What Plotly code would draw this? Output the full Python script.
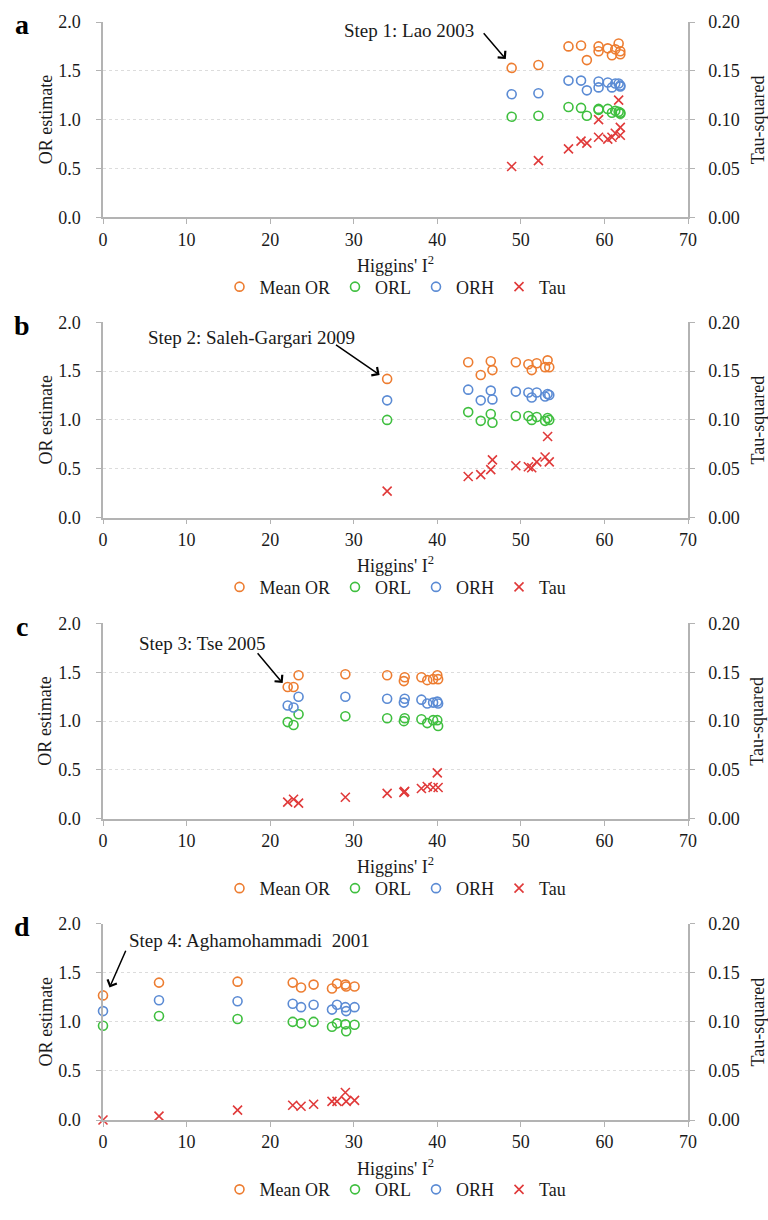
import plotly.graph_objects as go
from plotly.subplots import make_subplots

# ---------------- data ----------------
panel_letters = ["a", "b", "c", "d"]
series_names = ["Mean OR", "ORL", "ORH", "Tau"]
step_labels = ["Step 1: Lao 2003", "Step 2: Saleh-Gargari 2009",
               "Step 3: Tse 2005", "Step 4: Aghamohammadi  2001"]

a_i2 = [48.9, 52.1, 55.7, 57.2, 57.9, 59.3, 59.3, 60.4, 60.9, 61.3, 61.7, 61.9, 61.9]
a_mean = [1.53, 1.56, 1.75, 1.76, 1.61, 1.75, 1.70, 1.73, 1.66, 1.72, 1.78, 1.70, 1.67]
a_orl = [1.03, 1.04, 1.13, 1.12, 1.04, 1.11, 1.10, 1.11, 1.07, 1.09, 1.08, 1.07, 1.06]
a_orh = [1.26, 1.27, 1.40, 1.40, 1.30, 1.39, 1.33, 1.38, 1.33, 1.37, 1.37, 1.35, 1.34]
a_tau = [0.052, 0.058, 0.070, 0.078, 0.076, 0.100, 0.082, 0.080, 0.082, 0.086, 0.120, 0.092, 0.084]

b_i2 = [34.0, 43.7, 45.2, 46.4, 46.6, 49.4, 50.9, 51.3, 51.9, 52.9, 53.2, 53.4]
b_mean = [1.42, 1.59, 1.46, 1.60, 1.51, 1.59, 1.57, 1.51, 1.58, 1.54, 1.61, 1.54]
b_orl = [1.00, 1.08, 0.99, 1.06, 0.97, 1.04, 1.04, 1.00, 1.03, 0.99, 1.02, 1.00]
b_orh = [1.20, 1.31, 1.20, 1.30, 1.21, 1.29, 1.28, 1.23, 1.28, 1.24, 1.265, 1.255]
b_tau = [0.027, 0.042, 0.044, 0.049, 0.059, 0.053, 0.052, 0.051, 0.057, 0.062, 0.083, 0.057]

c_i2 = [22.1, 22.8, 23.4, 29.0, 34.0, 36.1, 36.0, 38.1, 38.8, 39.5, 40.0, 40.1]
c_mean = [1.35, 1.35, 1.47, 1.48, 1.47, 1.45, 1.41, 1.45, 1.42, 1.43, 1.47, 1.43]
c_orl = [0.99, 0.96, 1.07, 1.05, 1.03, 1.03, 1.00, 1.02, 0.98, 1.01, 1.01, 0.95]
c_orh = [1.16, 1.14, 1.25, 1.25, 1.23, 1.23, 1.19, 1.22, 1.18, 1.19, 1.20, 1.18]
c_tau = [0.017, 0.020, 0.016, 0.022, 0.026, 0.028, 0.027, 0.031, 0.033, 0.032, 0.047, 0.032]

d_i2 = [0.0, 6.7, 16.1, 22.7, 23.7, 25.2, 27.4, 28.0, 29.0, 29.1, 30.1]
d_mean = [1.27, 1.40, 1.41, 1.40, 1.35, 1.38, 1.34, 1.39, 1.38, 1.36, 1.36]
d_orl = [0.96, 1.06, 1.03, 1.00, 0.985, 1.00, 0.95, 0.985, 0.975, 0.905, 0.97]
d_orh = [1.11, 1.22, 1.21, 1.185, 1.15, 1.175, 1.125, 1.175, 1.15, 1.11, 1.15]
d_tau = [0.000, 0.004, 0.010, 0.015, 0.014, 0.016, 0.019, 0.019, 0.028, 0.019, 0.020]

panels = [
    (a_i2, a_mean, a_orl, a_orh, a_tau),
    (b_i2, b_mean, b_orl, b_orh, b_tau),
    (c_i2, c_mean, c_orl, c_orh, c_tau),
    (d_i2, d_mean, d_orl, d_orh, d_tau),
]

# ---------------- styling ----------------
W, H = 768, 1220
ML, MR, MT, MB = 103, 80, 20, 81
PW, PH = W - ML - MR, H - MT - MB
FONT = "Liberation Serif"
TXT = "#1a1a1a"
AXIS_COL = "#b3b3b3"
GRID_COL = "#dcdcdc"
colors = ["#ED7D31", "#3FBF3F", "#5B8BD4", "#E03A3A"]

# pixel tops/bottoms of each plot area
tops = [20, 326, 633, 939]
bots = [219, 525, 832, 1139]

def py2paper(py):
    return min(1.0, max(0.0, (MT + PH - py) / PH))

def py2paper_free(py):
    return (MT + PH - py) / PH

def px2paper(px):
    return (px - ML) / PW

fig = make_subplots(rows=4, cols=1, specs=[[{"secondary_y": True}]] * 4)

for r, (xi, mean, orl, orh, tau) in enumerate(panels, start=1):
    leg = "legend" if r == 1 else f"legend{r}"
    for k, (vals, name) in enumerate(zip([mean, orl, orh], series_names[:3])):
        fig.add_trace(go.Scatter(
            x=xi, y=vals, mode="markers", name=name, legend=leg,
            cliponaxis=False,
            marker=dict(symbol="circle-open", size=9, color=colors[k],
                        line=dict(width=1.6, color=colors[k]))),
            row=r, col=1, secondary_y=False)
    fig.add_trace(go.Scatter(
        x=xi, y=tau, mode="markers", name=series_names[3], legend=leg,
        cliponaxis=False,
        marker=dict(symbol="x-thin-open", size=9, color=colors[3],
                    line=dict(width=1.6, color=colors[3]))),
        row=r, col=1, secondary_y=True)

    dom = [py2paper(bots[r - 1]), py2paper(tops[r - 1])]
    fig.update_xaxes(row=r, col=1, domain=[0, 1], range=[0, 70], dtick=10,
                     showline=True, linecolor=AXIS_COL, linewidth=1.5,
                     ticks="outside", ticklen=5, tickcolor=AXIS_COL,
                     showgrid=False, zeroline=False,
                     tickfont=dict(family=FONT, size=18, color=TXT))
    fig.update_yaxes(row=r, col=1, secondary_y=False, domain=dom,
                     range=[0, 2], dtick=0.5, tickformat=".1f",
                     showline=True, linecolor=AXIS_COL, linewidth=1.5,
                     ticks="outside", ticklen=5, tickcolor=AXIS_COL,
                     ticklabelstandoff=12,
                     showgrid=True, gridcolor=GRID_COL, griddash="dot", gridwidth=1,
                     zeroline=False,
                     tickfont=dict(family=FONT, size=18, color=TXT))
    fig.update_yaxes(row=r, col=1, secondary_y=True, domain=dom,
                     range=[0, 0.2], dtick=0.05, tickformat=".2f",
                     showline=True, linecolor=AXIS_COL, linewidth=1.5,
                     ticks="outside", ticklen=5, tickcolor=AXIS_COL,
                     ticklabelstandoff=10,
                     showgrid=False, zeroline=False,
                     tickfont=dict(family=FONT, size=18, color=TXT))

    top, bot = tops[r - 1], bots[r - 1]
    mid = (top + bot) / 2
    # panel letter
    fig.add_annotation(xref="paper", yref="paper", x=px2paper(22), y=py2paper_free(top + 3),
                       text=f"<b>{panel_letters[r-1]}</b>", showarrow=False,
                       font=dict(family=FONT, size=28, color="#000"),
                       xanchor="center", yanchor="middle")
    # axis titles
    fig.add_annotation(xref="paper", yref="paper", x=px2paper(45.5), y=py2paper_free(mid),
                       text="OR estimate", textangle=-90, showarrow=False,
                       font=dict(family=FONT, size=18, color=TXT),
                       xanchor="center", yanchor="middle")
    fig.add_annotation(xref="paper", yref="paper", x=px2paper(757.5), y=py2paper_free(mid),
                       text="Tau-squared", textangle=-90, showarrow=False,
                       font=dict(family=FONT, size=18, color=TXT),
                       xanchor="center", yanchor="middle")
    fig.add_annotation(xref="paper", yref="paper", x=0.5, y=py2paper_free(bot + 48),
                       text="Higgins' I<sup>2</sup>", showarrow=False,
                       font=dict(family=FONT, size=18, color=TXT),
                       xanchor="center", yanchor="middle")

# step annotations (text + arrow), positions in data coords of each panel
step_text_pos = [(44.6, 1.91, "right"), (30.4, 1.84, "right"),
                 (19.8, 1.80, "right"), (2.9, 1.83, "left")]
arrow_tail = [(45.4, 1.90), (27.7, 1.78), (18.35, 1.71), (2.8, 1.74)]
arrow_tip = [(48.2, 1.62), (33.1, 1.46), (21.5, 1.39), (0.78, 1.35)]
xrefs = ["x", "x2", "x3", "x4"]
yrefs = ["y", "y3", "y5", "y7"]
for i in range(4):
    tx, ty, anc = step_text_pos[i]
    fig.add_annotation(xref=xrefs[i], yref=yrefs[i], x=tx, y=ty, text=step_labels[i],
                       showarrow=False, xanchor=anc, yanchor="middle",
                       font=dict(family=FONT, size=19, color=TXT))
    fig.add_annotation(xref=xrefs[i], yref=yrefs[i], x=arrow_tip[i][0], y=arrow_tip[i][1],
                       axref=xrefs[i], ayref=yrefs[i],
                       ax=arrow_tail[i][0], ay=arrow_tail[i][1], text="",
                       showarrow=True, arrowhead=4, arrowsize=1.3, arrowwidth=1.5,
                       arrowcolor="#000")

# legends
legend_common = dict(orientation="h", xanchor="center", yanchor="middle",
                     x=0.5, bgcolor="rgba(0,0,0,0)", itemwidth=30,
                     font=dict(family=FONT, size=18, color=TXT))
layout_legends = {}
for r in range(1, 5):
    key = "legend" if r == 1 else f"legend{r}"
    layout_legends[key] = dict(legend_common, y=py2paper_free(bots[r - 1] + 71))

fig.update_layout(
    width=W, height=H,
    margin=dict(l=ML, r=MR, t=MT, b=MB),
    paper_bgcolor="white", plot_bgcolor="white",
    font=dict(family=FONT, size=18, color=TXT),
    showlegend=True,
    **layout_legends,
)

fig.write_html("out.html", config={"displayModeBar": False},
               post_script="document.body.style.margin='0';document.body.style.overflow='hidden';")
